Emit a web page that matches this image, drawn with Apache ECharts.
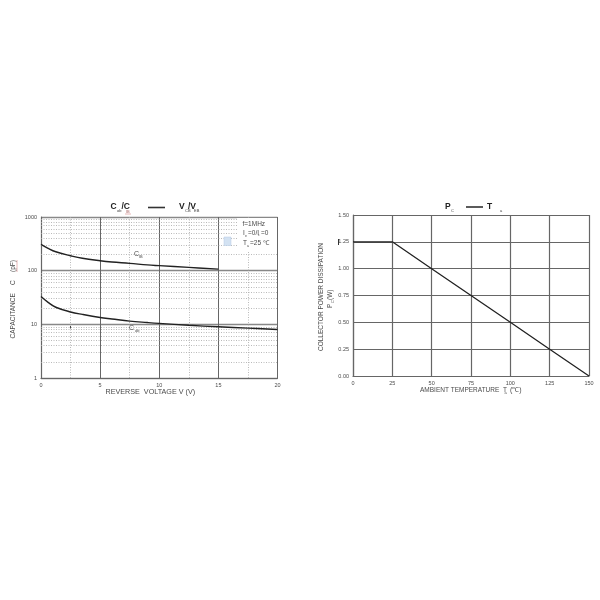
<!DOCTYPE html>
<html><head><meta charset="utf-8">
<style>html,body{margin:0;padding:0;background:#fff}#c{width:600px;height:600px}</style>
<script src="https://cdn.jsdelivr.net/npm/echarts@6/dist/echarts.min.js"></script>
</head><body><div id="c"></div>
<script>
const voltage=[0,0.6,1.25,2.5,3.5,5,6,7.5,9,10,12.5,15,17.5,20];
const cib=[310,261,225,190,170,153,145,137,128,124,115,107,null,null];
const cob=[33,25.7,20.8,17,15.3,13.4,12.6,11.5,10.8,10.4,9.6,9,8.5,8];
const tempX=[0,25,50,75,100,125,150];
const power=[1.25,1.25,1,0.75,0.5,0.25,0];
const logMinor=[2,3,4,5,6,7,8,9,20,30,40,50,60,70,80,90,200,300,400,500,600,700,800,900];
const voltMinor=[2.5,7.5,12.5,17.5];

const F='"Liberation Sans",Arial,sans-serif', G='#4a4a4a';
const axisLabel={color:G,fontSize:5.5,fontFamily:F,margin:4};
const t=(x,y,text,o={})=>({type:'text',x,y,z:21,silent:true,rotation:o.rot||0,style:{text,fill:o.c||G,
  fontSize:o.s||7,fontWeight:o.b?'bold':'normal',fontFamily:F,align:o.a||'left',verticalAlign:'middle'}});
const seg=(x1,y1,x2,y2,stroke,lineWidth)=>({type:'line',z:21,silent:true,shape:{x1,y1,x2,y2},style:{stroke,lineWidth}});
const R=Math.PI/2;
const graphic=[
 {type:'rect',z:20,silent:true,shape:{x:237,y:218,width:40,height:34},style:{fill:'#fff'}},
 {type:'rect',z:21,silent:true,shape:{x:224,y:237,width:7,height:8.5},style:{fill:'#d3e2f2',stroke:'#b5cbe4',lineWidth:0.5}},
 t(110.5,207,'C',{b:1,s:8.5,c:'#222'}),t(117,211,'ob',{s:4,c:'#444'}),t(121.5,207,'/C',{b:1,s:8.5,c:'#222'}),t(126,212,'IB',{s:4,c:'#a66'}),
 seg(125,214,131,214,'#d99',0.7),
 seg(148,207.5,165,207.5,'#333',1.6),
 t(179,207,'V',{b:1,s:8.5,c:'#222'}),t(185,211,'CB',{s:4,c:'#444'}),t(188,207,'/V',{b:1,s:8.5,c:'#222'}),t(194,211,'EB',{s:4,c:'#444'}),
 t(242.5,224,'f=1MHz',{s:6.5}),t(243,233,'I',{s:6.5}),t(245,236,'e',{s:3.5}),t(248,233,'=0/I',{s:6.5}),t(258,235.5,'c',{s:3.5}),t(261,233,'=0',{s:6.5}),
 t(243,243,'T',{s:6.5}),t(247,246,'a',{s:3.5}),t(250,243,'=25 ℃',{s:6.5}),
 t(134,254,'C',{s:7}),t(139,256.5,'IB',{s:4}),
 t(129,328,'C',{s:7}),t(135,331,'ob',{s:4}),
 seg(70.5,326,70.5,328.5,'#444',1),
 t(105.5,392,'REVERSE  VOLTAGE V (V)',{s:7.2}),
 t(13.5,338.5,'CAPACITANCE',{s:6.5,rot:R}),t(13.5,285,'C',{s:6.5,rot:R}),t(13.5,272,'(pF)',{s:6.5,rot:R}),
 seg(17,260,17,272,'#d99',0.7),
 t(445,207,'P',{b:1,s:8.5,c:'#222'}),t(451,211,'C',{s:4,c:'#444'}),seg(466,207,483,207,'#333',1.6),t(487,206.5,'T',{b:1,s:8.5,c:'#222'}),t(500,211,'a',{s:4,c:'#444'}),
 t(420,390.5,'AMBIENT TEMPERATURE  T',{s:6.5}),t(504.5,393,'a',{s:4}),t(510,390.5,'(℃)',{s:7}),
 t(321,351,'COLLECTOR POWER DISSIPATION',{s:6.5,rot:R}),t(330,308,'P',{s:6.5,rot:R}),t(332.5,303,'C',{s:4,rot:R}),t(330,300,'(W)',{s:6.5,rot:R}),
 seg(338.5,239,338.5,245,'#333',1),
];
const minorH=logMinor.map(v=>({yAxis:v}));
const minorV=voltMinor.map(v=>({xAxis:v}));
const axisLine={show:true,onZero:false,lineStyle:{color:'#666',width:1.2}};
const chart=echarts.init(document.getElementById('c'),null,{renderer:'canvas'});
chart.setOption({
 animation:false,backgroundColor:'#fff',graphic:{elements:graphic},
 grid:[{left:41,top:217,width:236.5,height:161,show:false},{left:353,top:215,width:236,height:161,show:false}],
 xAxis:[
  {gridIndex:0,type:'value',min:0,max:20,interval:5,axisLabel,axisTick:{show:false},axisLine,splitLine:{show:true,lineStyle:{color:'#666',width:1}}},
  {gridIndex:1,type:'value',min:0,max:150,interval:25,axisLabel,axisTick:{show:false},axisLine,splitLine:{show:true,lineStyle:{color:'#666',width:1.2}}}
 ],
 yAxis:[
  {gridIndex:0,type:'log',logBase:10,min:1,max:1000,axisLabel:{...axisLabel,formatter:v=>String(Math.round(v))},axisTick:{show:false},axisLine,splitLine:{show:true,lineStyle:{color:'#888',width:1.4}},minorSplitLine:{show:false},minorTick:{show:false}},
  {gridIndex:1,type:'value',min:0,max:1.5,interval:0.25,axisLabel:{...axisLabel,formatter:v=>v.toFixed(2)},axisTick:{show:false},axisLine,splitLine:{show:true,lineStyle:{color:'#666',width:1.2}}}
 ],
 series:[
  {name:'Cib',type:'line',xAxisIndex:0,yAxisIndex:0,smooth:0.4,showSymbol:false,connectNulls:false,z:5,
   data:voltage.map((v,i)=>[v,cib[i]]),lineStyle:{color:'#222',width:1.4},
   markLine:{silent:true,symbol:'none',label:{show:false},animation:false,lineStyle:{color:'#a8a8a8',width:0.8,type:[1,1.5]},data:[...minorH,...minorV]}},
  {name:'Cob',type:'line',xAxisIndex:0,yAxisIndex:0,smooth:0.4,showSymbol:false,z:5,
   data:voltage.map((v,i)=>[v,cob[i]]),lineStyle:{color:'#222',width:1.4}},
  {name:'Pc',type:'line',xAxisIndex:1,yAxisIndex:1,showSymbol:false,z:5,
   data:tempX.map((v,i)=>[v,power[i]]),lineStyle:{color:'#222',width:1.3}}
 ]
});
</script></body></html>
